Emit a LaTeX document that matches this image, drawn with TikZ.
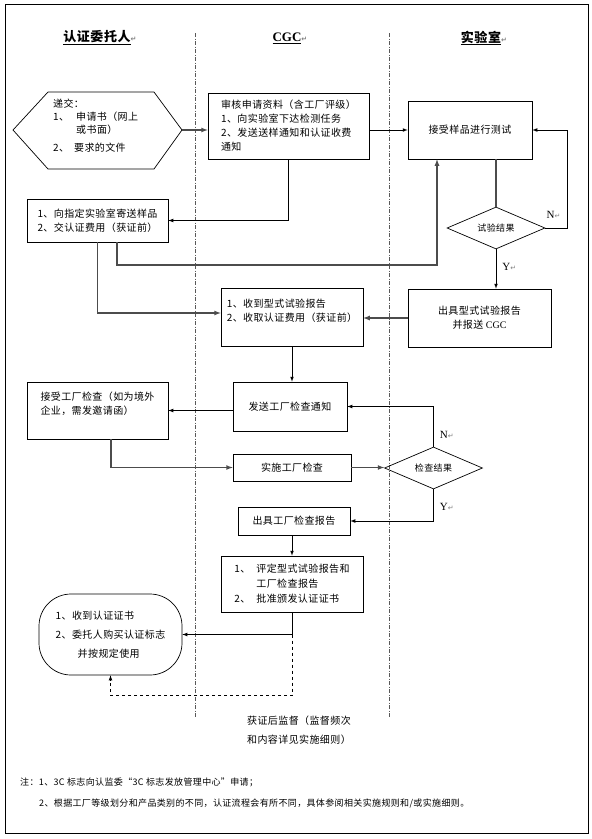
\documentclass[tikz,border=0pt]{standalone}
\usepackage{fontspec}
\setmainfont{Liberation Serif}
\newfontfamily\cjk[LetterSpace=4]{Noto Sans CJK SC}
\newfontfamily\symfont{DejaVu Sans}
\usetikzlibrary{shapes.geometric}
\newcommand{\ret}{{\symfont\color{gray}\fontsize{7}{7}\selectfont ↵}}

\begin{document}
\begin{tikzpicture}[x=1pt, y=-1pt,
  box/.style={draw, line width=0.7pt, inner sep=0pt, align=left, font=\cjk\fontsize{10}{14}\selectfont},
  choice/.style={draw, diamond, aspect=2.35, line width=0.7pt, inner sep=0pt, minimum width=98pt, minimum height=42pt, font=\cjk\fontsize{9}{9}\selectfont},
  lane/.style={gray!70!black, line width=0.7pt, dash pattern=on 4pt off 1.5pt on 1pt off 1.5pt},
  link/.style={line width=0.7pt, ->, >=latex},
  flow/.style={gray!60!black, line width=1.2pt, ->, >=latex},
  head/.style={font=\bfseries\fontsize{13}{13}\selectfont},
  yn/.style={font=\fontsize{11}{11}\selectfont, inner sep=1pt}]
\useasboundingbox (0,0) rectangle (592,839);
\draw[line width=0.8pt] (5,4) rectangle (588,833);

% lanes
\node[head] (hdrA) at (97,38) {\underline{\cjk\bfseries 认证委托人}\rlap{\ret}};
\node[head] (hdrB) at (287,38) {\underline{CGC}\rlap{\ret}};
\node[head] (hdrC) at (481,38) {\underline{\cjk\bfseries 实验室}\rlap{\ret}};
\draw[lane] (195,33) -- (195,717);
\draw[lane] (389,33) -- (389,717);

% application
\draw[line width=0.7pt] (13,130) -- (48,92) -- (154,92) -- (182,130) -- (154,169) -- (48,169) -- cycle;
\coordinate (hexE) at (182,130);
\node[anchor=north west, inner sep=0pt, align=left, font=\cjk\fontsize{10}{13}\selectfont] (submit) at (53,99)
  {递交：\\1、\hspace{7pt}申请书（网上\\\hspace{23pt}或书面）\\[5pt]2、\hspace{5pt}要求的文件};

\node[box, minimum width=161pt, minimum height=66pt] (chkA) at (288.5,126)
  {审核申请资料（含工厂评级）\\1、向实验室下达检测任务\\2、发送送样通知和认证收费\\通知};
\node[box, minimum width=124pt, minimum height=58pt] (lab) at (470,130) {接受样品进行测试};
\node[box, minimum width=141pt, minimum height=43pt] (send) at (97.5,220.5)
  {1、向指定实验室寄送样品\\2、交认证费用（获证前）};
\node[choice] (testRes) at (496,228) {试验结果};
\node[box, align=center, minimum width=143pt, minimum height=58pt] (typeRep) at (479.5,318)
  {出具型式试验报告\\并报送 {\rmfamily CGC}};
\node[box, minimum width=142pt, minimum height=58pt] (recvRep) at (292,317)
  {1、收到型式试验报告\\2、收取认证费用（获证前）\\\mbox{}};

% factory inspection
\node[box, minimum width=114pt, minimum height=49pt] (notice) at (290,406.5) {发送工厂检查通知};
\node[box, minimum width=141pt, minimum height=57pt] (accept) at (97.5,410.5)
  {接受工厂检查（如为境外\\企业，需发邀请函）\\\mbox{}};
\node[box, minimum width=118pt, minimum height=27pt] (inspect) at (292,467.5) {实施工厂检查};
\node[choice] (inspRes) at (433.5,468) {检查结果};
\node[box, minimum width=112pt, minimum height=28pt] (inspRep) at (294,521) {出具工厂检查报告};
\node[box, minimum width=142pt, minimum height=56pt, font=\cjk\fontsize{10}{15}\selectfont] (approve) at (292,584)
  {1、\hspace{6pt}评定型式试验报告和\\\hspace{22pt}工厂检查报告\\2、\hspace{6pt}批准颁发认证证书};
\node[box, rounded corners=32pt, minimum width=143pt, minimum height=81pt, font=\cjk\fontsize{10}{19}\selectfont] (cert) at (110.5,634.5)
  {1、收到认证证书\\2、委托人购买认证标志\\\hspace{22pt}并按规定使用};
\node[anchor=north west, inner sep=0pt, align=left, font=\cjk\fontsize{10}{19}\selectfont] (superv) at (247,716)
  {获证后监督（监督频次\\和内容详见实施细则）};

% notes
\node[anchor=west, inner sep=0pt, font=\cjk\fontsize{9}{9}\selectfont] (note1) at (20,782)
  {注：1、3C 标志向认监委“3C 标志发放管理中心”申请；};
\node[anchor=west, inner sep=0pt, font=\cjk\fontsize{9}{9}\selectfont] (note2) at (39,803)
  {2、根据工厂等级划分和产品类别的不同，认证流程会有所不同，具体参阅相关实施规则和/或实施细则。};

% connectors
\draw[flow] (hexE) -- (hexE -| chkA.west);
\draw[link] (chkA.south) |- (send.east);
\draw[link] (chkA.east |- lab.west) -- (lab.west);
\draw[flow] (send.south) |- ([yshift=4pt]recvRep.west);
\coordinate (feeY) at (0,265);
\coordinate (feeX) at ([xshift=-33pt]lab.south);
\draw[flow] ([xshift=19.5pt]send.south) |- (feeX |- feeY) -- (feeX);
\draw[flow, -] (testRes.north |- lab.south) -- (testRes.north);
\draw[link] (testRes.east) node[yn, above right, yshift=8pt] {N\ret} -- ++(22,0) |- (lab.east);
\draw[link] (testRes.south) -- node[yn, right, pos=0.45, xshift=5pt] {Y\ret} (testRes.south |- typeRep.north);
\draw[flow] (typeRep.west) -- (typeRep.west -| recvRep.east);
\draw[link] (recvRep.south) -- (recvRep.south |- notice.north);
\draw[link] (notice.west |- accept.east) -- (accept.east);
\draw[flow] ([xshift=13.5pt]accept.south) |- (inspect.west);
\draw[flow] (inspect.east) -- (inspect.east -| inspRes.west);
\draw[link] (inspRes.north) |- node[yn, right, pos=0.15, xshift=5pt] {N\ret} (notice.east);
\draw[link] (inspRes.south) |- node[yn, right, pos=0.27, xshift=5pt] {Y\ret} (inspRep.east);
\draw[link] (approve.north |- inspRep.south) -- (approve.north);
\draw[link] (approve.south) |- (cert.east);
\draw[link, dashed] (approve.south |- cert.east) -- ++(0,61) -| (cert.south);
\end{tikzpicture}
\end{document}
